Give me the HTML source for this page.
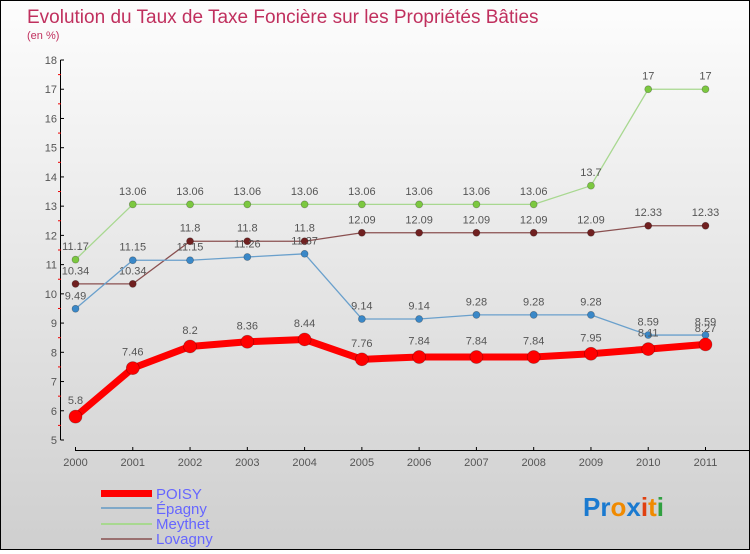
<!DOCTYPE html>
<html><head><meta charset="utf-8"><style>
html,body{margin:0;padding:0}
body{width:750px;height:550px;overflow:hidden;font-family:"Liberation Sans",sans-serif}
#wrap{position:relative;width:748px;height:548px;border:1px solid #000;background:linear-gradient(#fdfdfd,#cfcfcf)}
</style></head><body>
<div id="wrap">
<svg id="chart" width="748" height="548">
<text x="26" y="22" font-size="19" fill="#c0305e">Evolution du Taux de Taxe Foncière sur les Propriétés Bâties</text>
<text x="26" y="38" font-size="11" fill="#c0305e">(en %)</text>
<g id="axes"></g><g id="series"></g>
<g>
<rect x="100" y="489" width="51" height="7" fill="#f00"/>
<text x="155" y="498" font-size="15" fill="#6666ff">POISY</text>
<rect x="100" y="506" width="51" height="2" fill="#7fa8c8"/>
<text x="155" y="513" font-size="15" fill="#6666ff">Épagny</text>
<rect x="100" y="522" width="51" height="2" fill="#a8d890"/>
<text x="155" y="528" font-size="15" fill="#6666ff">Meythet</text>
<rect x="100" y="537" width="51" height="2" fill="#9a7070"/>
<text x="155" y="543" font-size="15" fill="#6666ff">Lovagny</text>
</g>
<g font-size="26" font-weight="bold">
<text x="582" y="515"><tspan fill="#1a7ad0">Pr</tspan><tspan fill="#f08a00">o</tspan><tspan fill="#1a7ad0">x</tspan><tspan fill="#e04010">i</tspan><tspan fill="#f08a00">t</tspan><tspan fill="#30a040">i</tspan></text>
</g>
</svg></div>
<script>
const years=["2000","2001","2002","2003","2004","2005","2006","2007","2008","2009","2010","2011"];
const poisy=[5.8,7.46,8.2,8.36,8.44,7.76,7.84,7.84,7.84,7.95,8.11,8.27];
const epagny=[9.49,11.15,11.15,11.26,11.37,9.14,9.14,9.28,9.28,9.28,8.59,8.59];
const meythet=[11.17,13.06,13.06,13.06,13.06,13.06,13.06,13.06,13.06,13.7,17,17];
const lovagny=[10.34,10.34,11.8,11.8,11.8,12.09,12.09,12.09,12.09,12.09,12.33,12.33];
const yTicks=[5,6,7,8,9,10,11,12,13,14,15,16,17,18];
const NS="http://www.w3.org/2000/svg";
const X=i=>74.5+i*(704.5-74.5)/(years.length-1);
const Y=v=>439-(v-5)*(439-59)/13;
function mk(t,a,p){const e=document.createElementNS(NS,t);for(const k in a)e.setAttribute(k,a[k]);p.appendChild(e);return e;}
const ax=document.getElementById('axes');
const yl=mk('line',{x1:59.5,y1:Y(18),x2:59.5,y2:Y(5),stroke:'#000','stroke-width':1},ax);


yTicks.forEach(v=>{
 mk('line',{x1:59.5,x2:63,y1:Y(v),y2:Y(v),stroke:'#000'},ax);
 if(v<18)mk('line',{x1:57,x2:60,y1:Y(v+0.5),y2:Y(v+0.5),stroke:'#e00'},ax);
 const t=mk('text',{x:56,y:Y(v)+4,'font-size':11,fill:'#555','text-anchor':'end'},ax);t.textContent=v;
 
 
});
const xl=mk('line',{x1:74.5,y1:449.5,x2:748,y2:449.5,stroke:'#000'},ax);


years.forEach((y,i)=>{
 mk('line',{x1:X(i),x2:X(i),y1:446,y2:450,stroke:'#000'},ax);
 const t=mk('text',{x:X(i),y:465,'font-size':11,fill:'#555','text-anchor':'middle'},ax);t.textContent=y;
 
 
});
const sg=document.getElementById('series');
function series(name,data,color,fill,w,r){
 const g=mk('g',{},sg);
 
 
 mk('polyline',{points:data.map((v,i)=>X(i)+','+Y(v)).join(' '),fill:'none',stroke:color,'stroke-width':w,'stroke-linejoin':'round'},g);
 data.forEach((v,i)=>{
  const c=mk('circle',{cx:X(i),cy:Y(v),r:r,fill:fill,stroke:'rgba(0,0,0,0.3)','stroke-width':0.7},g);
  
  
  const t=mk('text',{x:X(i),y:Y(v)-(r+6),'font-size':11,fill:'#555','text-anchor':'middle'},g);
  t.textContent=v;
  
  
 });
}
series('meythet',meythet,'#a8d890','#7cc840',1.3,3.5);
series('lovagny',lovagny,'#8a5050','#702020',1.3,3.5);
series('epagny',epagny,'#6aa0cc','#3a88c8',1.3,3.5);
series('poisy',poisy,'#f00','#f00',7,6.5);
</script></body></html>
